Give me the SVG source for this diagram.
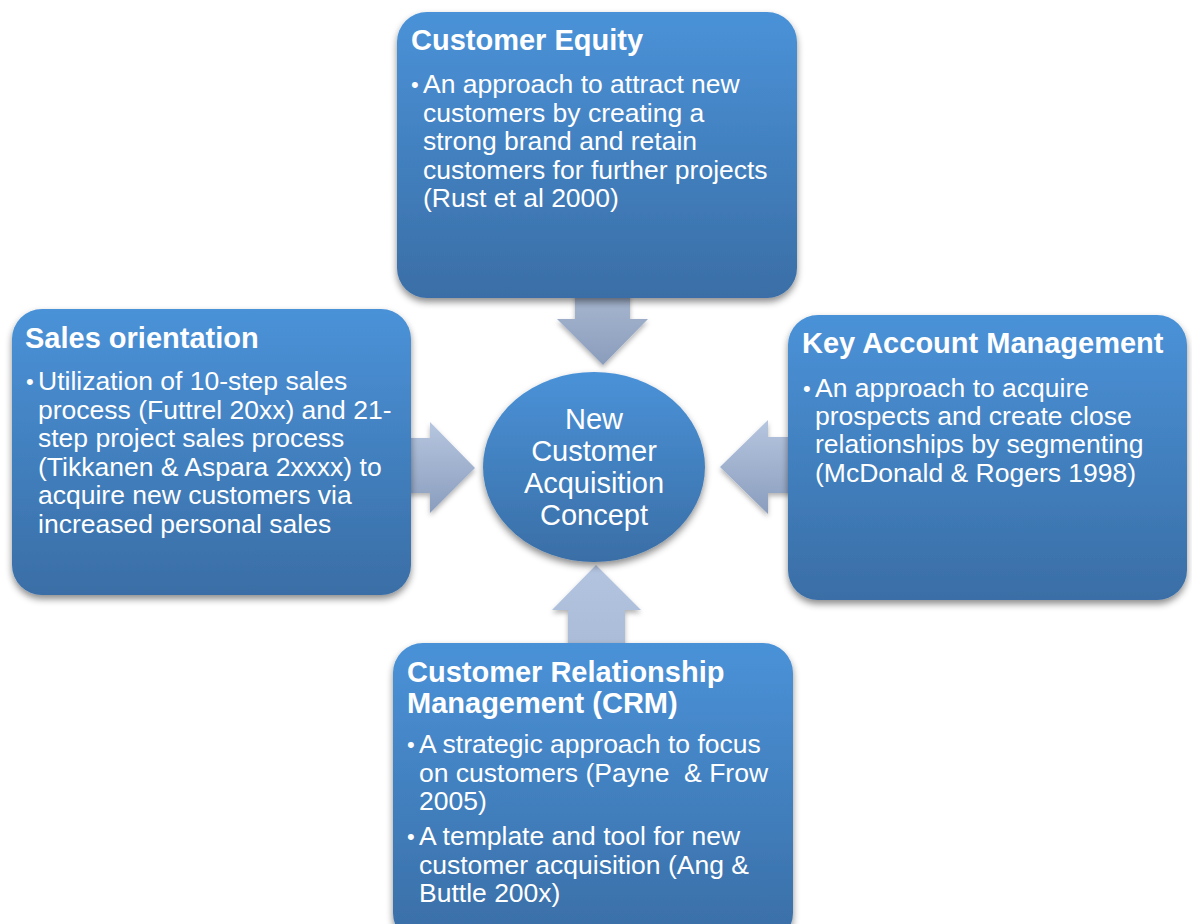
<svg xmlns="http://www.w3.org/2000/svg" width="1192" height="924" viewBox="0 0 1192 924">
<defs>
<linearGradient id="boxg" x1="0" y1="0" x2="0" y2="1">
<stop offset="0" stop-color="#4A92D8"/>
<stop offset="1" stop-color="#3A6EA6"/>
</linearGradient>
<linearGradient id="arrg" x1="0" y1="0" x2="0" y2="1">
<stop offset="0" stop-color="#B6C6E0"/>
<stop offset="1" stop-color="#8A9DBD"/>
</linearGradient>
<linearGradient id="arrtop" x1="0" y1="0" x2="0" y2="1">
<stop offset="0" stop-color="#A9B8D1"/>
<stop offset="1" stop-color="#8A9DBC"/>
</linearGradient>
<linearGradient id="arrbot" x1="0" y1="0" x2="0" y2="1">
<stop offset="0" stop-color="#B3C4E0"/>
<stop offset="1" stop-color="#AABBD7"/>
</linearGradient>
<filter id="sh" x="-10%" y="-10%" width="120%" height="125%">
<feDropShadow dx="0" dy="4" stdDeviation="3.5" flood-color="#000" flood-opacity="0.45"/>
</filter>
<filter id="sha" x="-20%" y="-20%" width="140%" height="150%">
<feDropShadow dx="0" dy="3" stdDeviation="2.5" flood-color="#000" flood-opacity="0.3"/>
</filter>
</defs>
<style>
.box{fill:url(#boxg);filter:url(#sh);}
.t{font-family:"Liberation Sans",Arial,sans-serif;font-size:29px;font-weight:bold;fill:#fff;}
.b{font-family:"Liberation Sans",Arial,sans-serif;font-size:26.5px;fill:#fff;white-space:pre;}
.c{font-family:"Liberation Sans",Arial,sans-serif;font-size:29px;fill:#fff;text-anchor:middle;}
.d{font-family:"Liberation Sans",Arial,sans-serif;font-size:22px;fill:#fff;}
</style>
<rect width="1192" height="924" fill="#fff"/>
<g id="connectors">
<polygon filter="url(#sha)" fill="url(#arrtop)" points="575,290 630,290 630,319 648,319 603,365 557,319 575,319"/>
<polygon filter="url(#sha)" fill="url(#arrg)" points="400,438 430,438 430,422 475,468 430,513 430,493 400,493"/>
<polygon filter="url(#sha)" fill="url(#arrg)" points="800,437 768,437 768,420 720,467 768,514 768,493 800,493"/>
<polygon filter="url(#sha)" fill="url(#arrbot)" points="568,655 568,610 552,610 596,565 641,610 625,610 625,655"/>
</g>
<g id="customer-equity">
<rect class="box" x="397" y="12" width="400" height="286" rx="30"/>
<text class="t" x="411" y="50">Customer Equity</text>
<text class="d" x="411" y="92">•</text>
<text class="b" x="423" y="93">An approach to attract new</text>
<text class="b" x="423" y="121.5">customers by creating a</text>
<text class="b" x="423" y="150">strong brand and retain</text>
<text class="b" x="423" y="178.5">customers for further projects</text>
<text class="b" x="423" y="207">(Rust et al 2000)</text>
</g>
<g id="sales-orientation">
<rect class="box" x="12" y="309" width="399" height="286" rx="30"/>
<text class="t" x="25" y="348">Sales orientation</text>
<text class="d" x="26" y="389">•</text>
<text class="b" x="38" y="390">Utilization of 10-step sales</text>
<text class="b" x="38" y="418.5">process (Futtrel 20xx) and 21-</text>
<text class="b" x="38" y="447">step project sales process</text>
<text class="b" x="38" y="475.5">(Tikkanen &amp; Aspara 2xxxx) to</text>
<text class="b" x="38" y="504">acquire new customers via</text>
<text class="b" x="38" y="532.5">increased personal sales</text>
</g>
<g id="key-account-management">
<rect class="box" x="788" y="315" width="399" height="285" rx="30"/>
<text class="t" x="802" y="353">Key Account Management</text>
<text class="d" x="803" y="396">•</text>
<text class="b" x="815" y="396.5">An approach to acquire</text>
<text class="b" x="815" y="424.5">prospects and create close</text>
<text class="b" x="815" y="453">relationships by segmenting</text>
<text class="b" x="815" y="481.5">(McDonald &amp; Rogers 1998)</text>
</g>
<g id="crm">
<rect class="box" x="393" y="643" width="400" height="300" rx="30"/>
<text class="t" x="407" y="682">Customer Relationship</text>
<text class="t" x="407" y="713">Management (CRM)</text>
<text class="d" x="407" y="752">•</text>
<text class="b" x="419" y="753">A strategic approach to focus</text>
<text class="b" x="419" y="781.5" xml:space="preserve">on customers (Payne  &amp; Frow</text>
<text class="b" x="419" y="810">2005)</text>
<text class="d" x="407" y="844">•</text>
<text class="b" x="419" y="845">A template and tool for new</text>
<text class="b" x="419" y="873.5">customer acquisition (Ang &amp;</text>
<text class="b" x="419" y="902">Buttle 200x)</text>
</g>
<g id="center">
<ellipse cx="594" cy="467" rx="111" ry="95" fill="url(#boxg)" filter="url(#sh)"/>
<text class="c" x="594" y="429">New</text>
<text class="c" x="594" y="461">Customer</text>
<text class="c" x="594" y="493">Acquisition</text>
<text class="c" x="594" y="525">Concept</text>
</g>
</svg>
